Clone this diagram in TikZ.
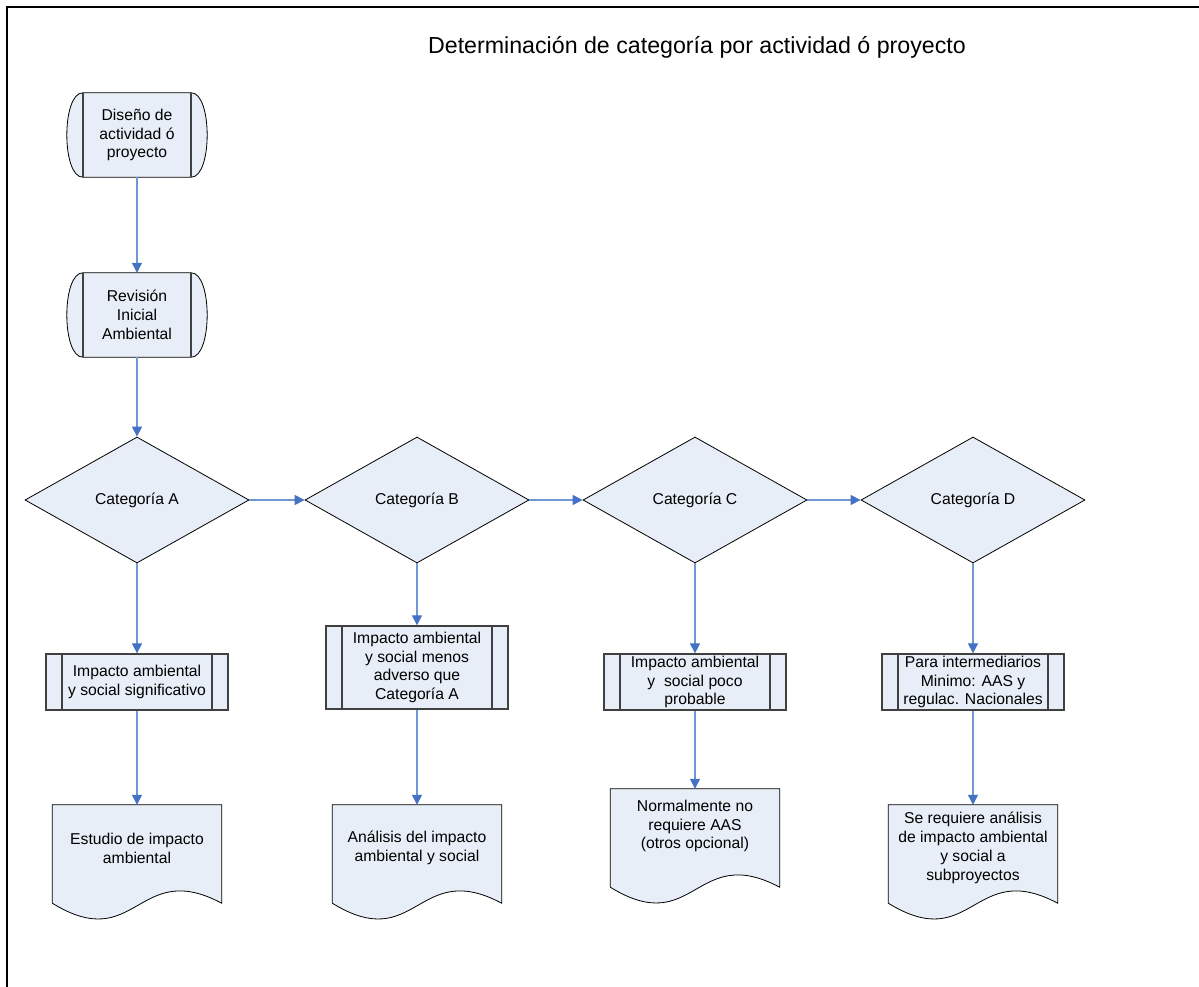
\documentclass[tikz,border=0pt]{standalone}
\usepackage{fontspec}
\setmainfont{Liberation Sans}
\usetikzlibrary{shapes.geometric,arrows.meta,backgrounds,calc}
\definecolor{boxfill}{RGB}{232,238,247}
\definecolor{arrline}{RGB}{112,152,212}
\definecolor{arrhead}{RGB}{68,114,196}
\definecolor{bargray}{RGB}{64,64,64}
\tikzset{
 every node/.style={font=\fontsize{15.7}{18.8}\selectfont, align=center, inner sep=0pt},
 term/.style={rectangle, minimum width=108pt, minimum height=84pt},
 decision/.style={diamond, draw=black, line width=0.8pt, fill=boxfill, minimum width=224pt, minimum height=126pt, aspect=1.78},
 procbox/.style={rectangle, draw=bargray, line width=1.3pt, fill=boxfill, minimum width=182pt, minimum height=56pt,
   path picture={\draw[bargray, line width=1.3pt]
     ([xshift=16pt]path picture bounding box.north west) -- ([xshift=16pt]path picture bounding box.south west)
     ([xshift=-16pt]path picture bounding box.north east) -- ([xshift=-16pt]path picture bounding box.south east);}},
 docbox/.style={rectangle, minimum width=169pt},
 arr/.style={draw=arrline, line width=1.2pt, -{Triangle[length=10pt,width=10pt,color=arrhead]}},
 termline/.style={fill=boxfill, draw=black, line width=0.8pt},
}
\newcommand{\termshape}[1]{%
 \filldraw[termline] (#1.north west) .. controls +(-21.3,0) and +(-21.3,0) .. (#1.south west) -- (#1.south east) .. controls +(21.3,0) and +(21.3,0) .. (#1.north east) -- cycle;
 \draw[bargray, line width=1.6pt] (#1.north west) -- (#1.south west) (#1.north east) -- (#1.south east);}
\newcommand{\docshape}[2]{%
 \filldraw[termline] (#1.north west) -- (#1.north east) -- ($(#1.south east)+(0,#2)$) .. controls +(-84.5,-45) and +(84.5,52) .. ($(#1.south west)+(0,#2)$) -- cycle;}
\begin{document}
\begin{tikzpicture}[x=1pt,y=-1pt]
\useasboundingbox (0,0) rectangle (1199,987);
\draw[line width=2pt] (1199,7) -- (7,7) -- (7,987);
\node[font=\fontsize{23.2}{27}\selectfont] (title) at (697,47) {Determinación de categoría por actividad ó proyecto};

\node[term] (t1) at (137,135) {Diseño de\\actividad ó\\proyecto};
\node[term] (t2) at (137,315) {Revisión\\Inicial\\Ambiental};

\node[decision] (da) at (137,500) {Categoría A};
\node[decision] (db) at (417,500) {Categoría B};
\node[decision] (dc) at (695,500) {Categoría C};
\node[decision] (dd) at (973,500) {Categoría D};

\node[procbox] (pa) at (137,682) {Impacto ambiental\\y social significativo};
\node[procbox, minimum height=83pt] (pb) at (417,667.5) {Impacto ambiental\\y social menos\\adverso que\\Categoría A};
\node[procbox] (pc) at (695,682) {Impacto ambiental\\y\ \ social poco\\probable};
\node[procbox] (pd) at (973,682) {Para intermediarios\\Minimo: AAS y\\regulac. Nacionales};

\node[docbox, minimum height=86pt] (ea) at (137,848) {Estudio de impacto\\ambiental};
\node[docbox, minimum height=86pt] (eb) at (417,848) {Análisis del impacto\\ambiental y social};
\node[docbox, minimum height=74pt] (ec) at (695,826) {Normalmente no\\requiere AAS\\(otros opcional)};
\node[docbox, minimum height=86pt] (ed) at (973,848) {Se requiere análisis\\de impacto ambiental\\y social a\\subproyectos};

\begin{scope}[on background layer]
\termshape{t1}
\termshape{t2}
\docshape{ea}{12}
\docshape{eb}{12}
\docshape{ec}{24}
\docshape{ed}{12}
\end{scope}

\draw[arr] (t1.south) -- (t2.north);
\draw[arr] (t2.south) -- (da.north);
\draw[arr] (da.east) -- (db.west);
\draw[arr] (db.east) -- (dc.west);
\draw[arr] (dc.east) -- (dd.west);
\draw[arr] (da.south) -- (pa.north);
\draw[arr] (db.south) -- (pb.north);
\draw[arr] (dc.south) -- (pc.north);
\draw[arr] (dd.south) -- (pd.north);
\draw[arr] (pa.south) -- (ea.north);
\draw[arr] (pb.south) -- (eb.north);
\draw[arr] (pc.south) -- (ec.north);
\draw[arr] (pd.south) -- (ed.north);
\end{tikzpicture}
\end{document}
